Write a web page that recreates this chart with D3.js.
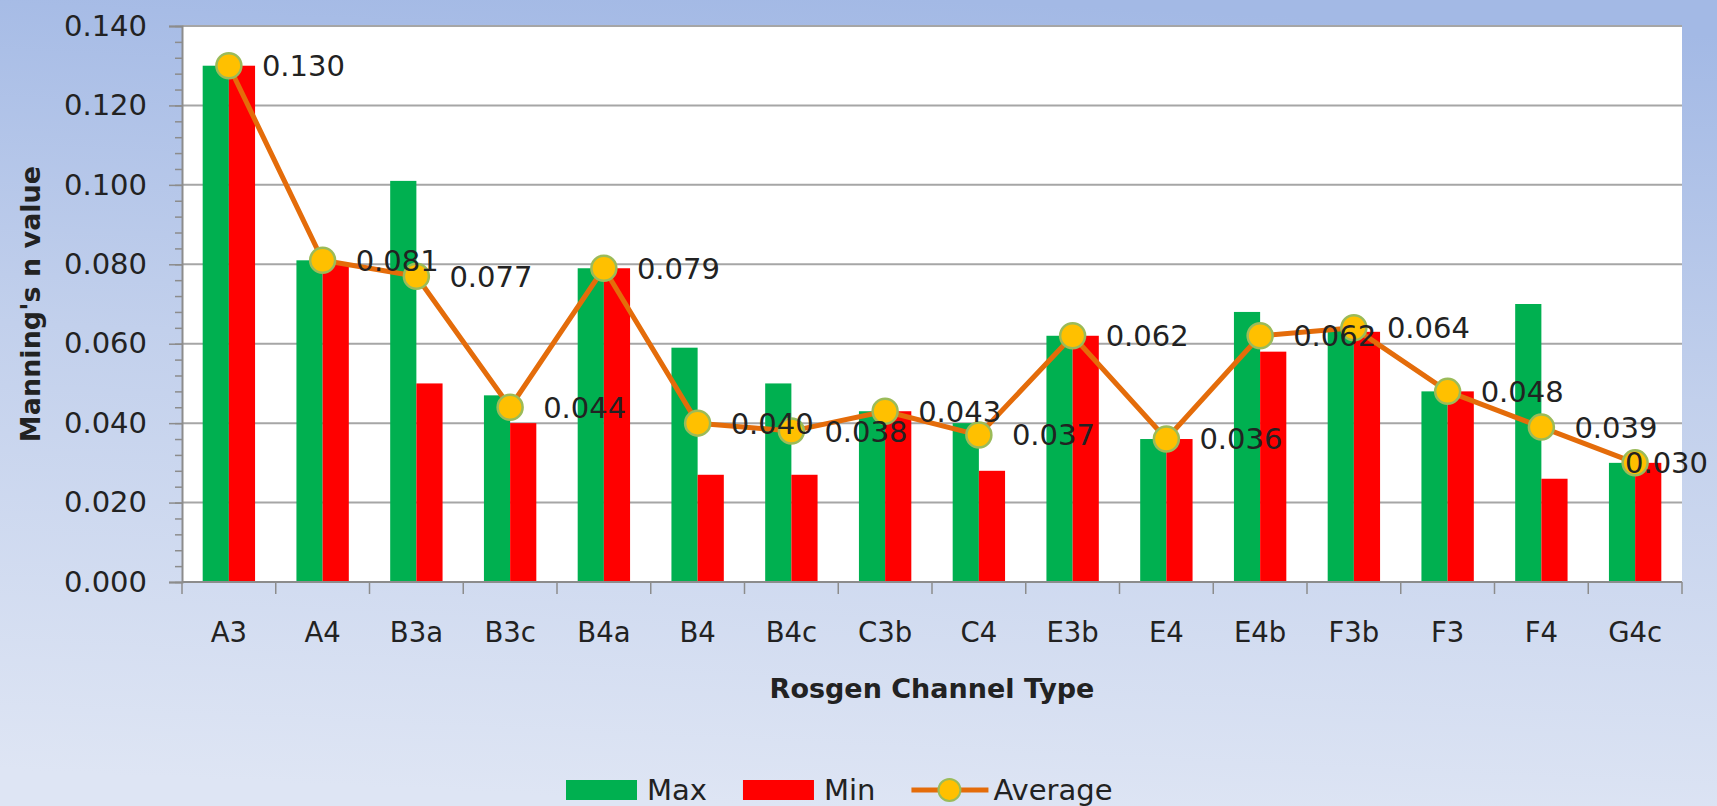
<!DOCTYPE html>
<html>
<head>
<meta charset="utf-8">
<script src="https://cdn.jsdelivr.net/npm/d3@7"></script>
<style>
  html, body { margin: 0; padding: 0; overflow: hidden; }
  body { width: 1717px; height: 806px; }
  text { font-family: 'DejaVu Sans', sans-serif; fill: #222; }
</style>
</head>
<body>
<script>
// values
const categories = ['A3', 'A4', 'B3a', 'B3c', 'B4a', 'B4', 'B4c', 'C3b', 'C4', 'E3b', 'E4', 'E4b', 'F3b', 'F3', 'F4', 'G4c'];
const maxValues = [0.130, 0.081, 0.101, 0.047, 0.079, 0.059, 0.050, 0.043, 0.040, 0.062, 0.036, 0.068, 0.064, 0.048, 0.070, 0.030];
const minValues = [0.130, 0.080, 0.050, 0.040, 0.079, 0.027, 0.027, 0.043, 0.028, 0.062, 0.036, 0.058, 0.063, 0.048, 0.026, 0.030];
const avgValues = [0.130, 0.081, 0.077, 0.044, 0.079, 0.040, 0.038, 0.043, 0.037, 0.062, 0.036, 0.062, 0.064, 0.048, 0.039, 0.030];
const yTicks = [0, 0.02, 0.04, 0.06, 0.08, 0.1, 0.12, 0.14];
const seriesNames = ['Max', 'Min', 'Average'];

const width = 1717;
const height = 806;
const plot = { left: 182, right: 1682, top: 26, bottom: 582 };

const colors = { Max: '#00B050', Min: '#FF0000', line: '#E46C0A', marker: '#FFC000', markerEdge: '#9BBB59' };

const svg = d3.select('body')
  .append('svg')
  .attr('width', width)
  .attr('height', height);

// background gradient
const defs = svg.append('defs');
const grad = defs.append('linearGradient')
  .attr('id', 'bg')
  .attr('x1', '0.55').attr('y1', '0')
  .attr('x2', '0.45').attr('y2', '1');
grad.append('stop').attr('offset', '0').attr('stop-color', '#A3B9E5');
grad.append('stop').attr('offset', '0.45').attr('stop-color', '#C2D0EC');
grad.append('stop').attr('offset', '1').attr('stop-color', '#DEE5F4');

svg.append('rect')
  .attr('width', width)
  .attr('height', height)
  .attr('fill', 'url(#bg)');

svg.append('rect')
  .attr('x', plot.left)
  .attr('y', plot.top)
  .attr('width', plot.right - plot.left)
  .attr('height', plot.bottom - plot.top)
  .attr('fill', '#fff');

const x = d3.scaleBand()
  .domain(categories)
  .range([plot.left, plot.right])
  .padding(0);

const xs = d3.scaleBand()
  .domain(['Max', 'Min'])
  .range([0, x.bandwidth()])
  .paddingInner(0)
  .paddingOuter(0.79);

const y = d3.scaleLinear()
  .domain([0, 0.14])
  .range([plot.bottom, plot.top]);

// gridlines
svg.append('g')
  .selectAll('line')
  .data(yTicks.filter((d) => d > 0))
  .enter()
  .append('line')
  .attr('x1', plot.left)
  .attr('x2', plot.right)
  .attr('y1', (d) => y(d))
  .attr('y2', (d) => y(d))
  .attr('stroke', '#A6A6A6')
  .attr('stroke-width', 2);

// y axis: minor ticks, then major ticks with labels
const minorTicks = d3.range(0, 0.1401, 0.004);
svg.append('g')
  .attr('transform', `translate(${plot.left},0)`)
  .call(d3.axisLeft(y).tickValues(minorTicks).tickSize(7).tickFormat(''))
  .call((g) => g.select('.domain').remove())
  .call((g) => g.selectAll('line').attr('stroke', '#8C8C8C').attr('stroke-width', 1.5));

const yAxis = svg.append('g')
  .attr('transform', `translate(${plot.left},0)`)
  .call(d3.axisLeft(y).tickValues(yTicks).tickSize(13).tickPadding(22).tickFormat(d3.format('.3f')));
yAxis.select('.domain').attr('stroke', '#8C8C8C').attr('stroke-width', 2);
yAxis.selectAll('line').attr('stroke', '#8C8C8C').attr('stroke-width', 1.5);
yAxis.selectAll('text')
  .attr('font-size', 29)
  .attr('font-family', 'DejaVu Sans')
  .attr('fill', '#222');

// bars
const barData = [];
categories.forEach((c, i) => {
  barData.push({ cat: c, key: 'Max', value: maxValues[i] });
  barData.push({ cat: c, key: 'Min', value: minValues[i] });
});

svg.append('g')
  .selectAll('rect')
  .data(barData)
  .enter()
  .append('rect')
  .attr('x', (d) => x(d.cat) + xs(d.key))
  .attr('width', xs.bandwidth())
  .attr('y', (d) => y(d.value))
  .attr('height', (d) => y(0) - y(d.value))
  .attr('fill', (d) => colors[d.key]);

// x axis
const xAxis = svg.append('g')
  .attr('transform', `translate(0,${plot.bottom})`);

xAxis.append('line')
  .attr('x1', plot.left)
  .attr('x2', plot.right)
  .attr('stroke', '#8C8C8C')
  .attr('stroke-width', 2);

xAxis.selectAll('.tick-mark')
  .data(categories.map((c) => x(c)).concat([plot.right]))
  .enter()
  .append('line')
  .attr('x1', (d) => d)
  .attr('x2', (d) => d)
  .attr('y1', 0)
  .attr('y2', 12)
  .attr('stroke', '#8C8C8C')
  .attr('stroke-width', 1.5);

xAxis.selectAll('.x-label')
  .data(categories)
  .enter()
  .append('text')
  .attr('x', (d) => x(d) + x.bandwidth() / 2)
  .attr('y', 60)
  .attr('text-anchor', 'middle')
  .attr('font-size', 27.5)
  .text((d) => d);

// average line
const cx = (i) => x(categories[i]) + x.bandwidth() / 2;

const line = d3.line()
  .x((d, i) => cx(i))
  .y((d) => y(d));

svg.append('path')
  .datum(avgValues)
  .attr('d', line)
  .attr('fill', 'none')
  .attr('stroke', colors.line)
  .attr('stroke-width', 5)
  .attr('stroke-linejoin', 'round');

svg.append('g')
  .selectAll('circle')
  .data(avgValues)
  .enter()
  .append('circle')
  .attr('cx', (d, i) => cx(i))
  .attr('cy', (d) => y(d))
  .attr('r', 12.5)
  .attr('fill', colors.marker)
  .attr('stroke', colors.markerEdge)
  .attr('stroke-width', 2.5);

// data labels sit right of the marker, pulled back in if they would leave the chart
const labelMaxX = 1708;
svg.append('g')
  .selectAll('text')
  .data(avgValues)
  .enter()
  .append('text')
  .attr('y', (d) => y(d))
  .attr('dy', '0.36em')
  .attr('font-size', 29)
  .text((d) => d3.format('.3f')(d))
  .attr('x', function(d, i) {
    const w = this.getComputedTextLength();
    return Math.min(cx(i) + 33, labelMaxX - w);
  });

// axis titles
svg.append('text')
  .attr('transform', `translate(40,${(plot.top + plot.bottom) / 2}) rotate(-90)`)
  .attr('text-anchor', 'middle')
  .attr('font-size', 27)
  .attr('font-weight', 'bold')
  .attr('fill', '#111')
  .text('Manning\'s n value');

svg.append('text')
  .attr('x', (plot.left + plot.right) / 2)
  .attr('y', 698)
  .attr('text-anchor', 'middle')
  .attr('font-size', 27)
  .attr('font-weight', 'bold')
  .attr('fill', '#111')
  .text('Rosgen Channel Type');

// legend
const legendY = 790;
const legend = svg.append('g');
let lx = 566;

seriesNames.forEach((name) => {
  if (name === 'Average') {
    legend.append('line')
      .attr('x1', lx).attr('x2', lx + 77)
      .attr('y1', legendY).attr('y2', legendY)
      .attr('stroke', colors.line)
      .attr('stroke-width', 5);
    legend.append('circle')
      .attr('cx', lx + 38).attr('cy', legendY)
      .attr('r', 11)
      .attr('fill', colors.marker)
      .attr('stroke', colors.markerEdge)
      .attr('stroke-width', 2);
    lx += 82;
  } else {
    legend.append('rect')
      .attr('x', lx).attr('y', legendY - 10)
      .attr('width', 71).attr('height', 20)
      .attr('fill', colors[name]);
    lx += 81;
  }
  const t = legend.append('text')
    .attr('x', lx)
    .attr('y', legendY)
    .attr('dy', '0.36em')
    .attr('font-size', 29)
    .text(name);
  lx += t.node().getComputedTextLength() + 36;
});
</script>
</body>
</html>
